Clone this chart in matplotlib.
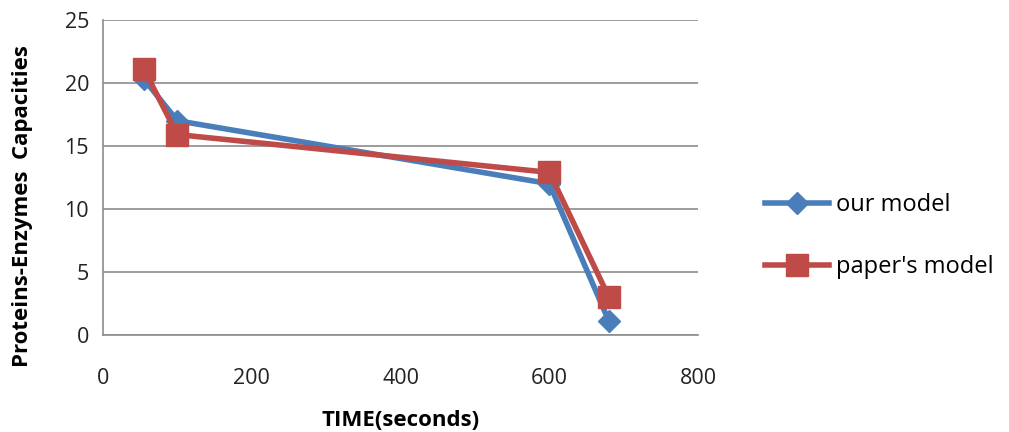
import matplotlib.pyplot as plt

time_s = [55, 100, 600, 680]
our_model = [20.3, 17.0, 12.0, 1.1]
papers_model = [21.1, 15.9, 12.9, 3.0]

x_ticks = [0, 200, 400, 600, 800]
y_ticks = [0, 5, 10, 15, 20, 25]

plt.rcParams["font.family"] = ["Open Sans", "DejaVu Sans"]

fig = plt.figure(figsize=(10.09, 4.32), dpi=100)
ax = fig.add_axes([0.102, 0.2245, 0.59, 0.7295])

grid_color = "#8c8c8c"
ax.set_xlim(0, 800)
ax.set_ylim(0, 25)
ax.set_xticks(x_ticks)
ax.set_yticks(y_ticks)
ax.yaxis.grid(True, color=grid_color, linewidth=1.2)
ax.set_axisbelow(True)
for side in ["top", "right"]:
    ax.spines[side].set_visible(False)
for side in ["left", "bottom"]:
    ax.spines[side].set_color(grid_color)
    ax.spines[side].set_linewidth(1.2)
ax.tick_params(axis="both", length=0, labelsize=15.5, colors="#222222")
ax.tick_params(axis="y", pad=10)
ax.tick_params(axis="x", pad=24)

ax.plot(time_s, our_model, color="#4a7ebb", linewidth=4, marker="D",
        markersize=11, label="our model", zorder=3)
ax.plot(time_s, papers_model, color="#be4b48", linewidth=4, marker="s",
        markersize=15.5, label="paper's model", zorder=4)

ax.set_xlabel("TIME(seconds)", fontsize=16, fontweight="bold")
ax.xaxis.set_label_coords(0.5, -0.27)
ax.xaxis.label.set_va("center")
ax.set_ylabel("Proteins-Enzymes  Capacities", fontsize=16, fontweight="bold")
ax.yaxis.set_label_coords(-0.135, 0.41)
ax.yaxis.label.set_va("center")

fig.legend(*ax.get_legend_handles_labels(), loc="center left",
           bbox_to_anchor=(765 / 1009, 1 - 236 / 432), frameon=False,
           borderpad=0, borderaxespad=0, fontsize=17, handlelength=2.7,
           handletextpad=0.3, labelspacing=1.6)

fig.savefig("out.png", dpi=100)
